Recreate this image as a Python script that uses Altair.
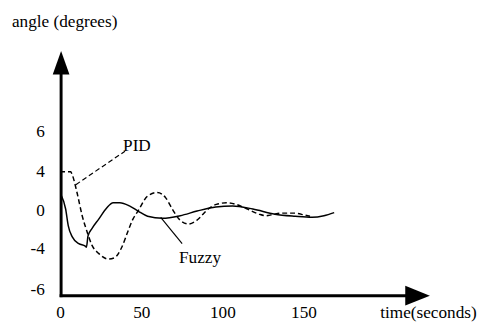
import altair as alt
import pandas as pd

# ---- data ----
fuzzy_t = [0.5, 3.4, 5.0, 7.5, 11.5, 15.5, 16.2, 17.2, 19.6, 23.7, 28.7, 32.7, 36.8, 42.7,
           48.0, 53.9, 63.1, 74.0, 84.4, 95.9, 106.3, 118.8, 132.4, 144.9, 155.3, 162.6, 168.9]
fuzzy_y = [1.8, 0.4, -1.2, -2.3, -2.95, -3.2, -3.3, -2.2, -1.5, -0.6, 0.5, 1.0, 1.0, 0.7,
           0.2, -0.3, -0.5, -0.25, 0.2, 0.6, 0.7, 0.4, -0.1, -0.3, -0.4, -0.25, 0.05]

pid_t = [0, 6.5, 7.5, 10.4, 13.6, 16.6, 19.6, 23.7, 29.7, 33.8, 37.7, 41.7, 44.8, 48.0, 53.9,
         59.9, 65.0, 69.1, 74.1, 79.2, 84.2, 91.3, 96.3, 102.5, 108.4, 114.7, 122.6, 126.7,
         130.7, 136.6, 144.9, 150.9, 154.0]
pid_y = [4, 4, 3.7, 2.0, -0.25, -1.8, -3.1, -3.9, -4.45, -4.3, -3.4, -1.8, -0.6, 0.2, 1.65,
         2.0, 1.5, 0.4, -0.7, -1.05, -0.7, 0.4, 0.85, 1.0, 0.85, 0.45, -0.1, -0.25, -0.15,
         0, 0, -0.2, -0.3]

x_ticks = [0, 50, 100, 150]
y_tick_pos = [7.9, 4.0, 0.2, -3.43, -7.43]
y_tick_text = ["6", "4", "0", "-4", "-6"]

x_title = "time(seconds)"
y_title = "angle (degrees)"
pid_label = "PID"
fuzzy_label = "Fuzzy"

# annotation anchors (data units)
pid_leader_t = [40.0, 9.7]
pid_leader_y = [6.0, 2.76]
fuzzy_leader_t = [62.0, 75.2]
fuzzy_leader_y = [-0.41, -2.95]

X_DOMAIN = [0, 230.3]
Y_DOMAIN = [-8.2, 16]
AXIS_T = 0.6        # where the vertical axis line sits
AXIS_Y = -8.0       # where the horizontal axis line sits
Y_ARROW_BASE, Y_ARROW_TIP = 13.43, 15.71
X_ARROW_BASE, X_ARROW_TIP = 212.7, 227.9

FONT = "Liberation Serif"
FS = 17.5

xs = alt.Scale(domain=X_DOMAIN, nice=False, zero=False)
ys = alt.Scale(domain=Y_DOMAIN, nice=False, zero=False)

ylabel_expr = " : ".join(
    f"datum.value == {p} ? '{t}'" for p, t in zip(y_tick_pos, y_tick_text)
) + " : ''"

x_enc = alt.X("t:Q", scale=xs, axis=alt.Axis(values=x_ticks, domain=False, ticks=False, tickSize=0,
                                             grid=False, title=None, labelFont=FONT, labelFontSize=FS,
                                             labelColor="black", labelPadding=6, labelFlush=False))
y_enc = alt.Y("y:Q", scale=ys, axis=alt.Axis(values=y_tick_pos, labelExpr=ylabel_expr, domain=False,
                                             ticks=False, tickSize=0, grid=False, title=None,
                                             labelFont=FONT, labelFontSize=FS, labelColor="black",
                                             labelPadding=16, labelFlush=False))

fuzzy_df = pd.DataFrame({"t": fuzzy_t, "y": fuzzy_y})
pid_df = pd.DataFrame({"t": pid_t, "y": pid_y})

fuzzy_line = alt.Chart(fuzzy_df).mark_line(color="black", strokeWidth=1.5, interpolate="monotone").encode(
    x=x_enc, y=y_enc)
pid_line = alt.Chart(pid_df).mark_line(color="black", strokeWidth=1.5, strokeDash=[5, 3],
                                       interpolate="monotone").encode(
    x=alt.X("t:Q", scale=xs), y=alt.Y("y:Q", scale=ys))

pid_leader = alt.Chart(pd.DataFrame({"t": pid_leader_t, "y": pid_leader_y})).mark_line(
    color="black", strokeWidth=1.2, strokeDash=[5, 3]).encode(
    x=alt.X("t:Q", scale=xs), y=alt.Y("y:Q", scale=ys))
fuzzy_leader = alt.Chart(pd.DataFrame({"t": fuzzy_leader_t, "y": fuzzy_leader_y})).mark_line(
    color="black", strokeWidth=1.2).encode(
    x=alt.X("t:Q", scale=xs), y=alt.Y("y:Q", scale=ys))

# axis lines
vaxis = alt.Chart(pd.DataFrame({"t": [AXIS_T, AXIS_T], "y": [AXIS_Y - 0.14, Y_ARROW_BASE + 0.3]})).mark_line(
    color="black", strokeWidth=3).encode(x=alt.X("t:Q", scale=xs), y=alt.Y("y:Q", scale=ys))
haxis = alt.Chart(pd.DataFrame({"t": [AXIS_T - 0.9, X_ARROW_BASE + 0.5], "y": [AXIS_Y, AXIS_Y]})).mark_line(
    color="black", strokeWidth=3).encode(x=alt.X("t:Q", scale=xs), y=alt.Y("y:Q", scale=ys))

yarrow = alt.Chart(pd.DataFrame({"t": [AXIS_T], "y": [(Y_ARROW_BASE + Y_ARROW_TIP) / 2]})).mark_point(
    shape="M0,-0.96L0.68,0.96L-0.68,0.96Z", filled=True, size=625, color="black", opacity=1, strokeWidth=0
).encode(x=alt.X("t:Q", scale=xs), y=alt.Y("y:Q", scale=ys))
xarrow = alt.Chart(pd.DataFrame({"t": [(X_ARROW_BASE + X_ARROW_TIP) / 2], "y": [AXIS_Y]})).mark_point(
    shape="M1,0L-1,-0.8L-1,0.8Z", filled=True, size=625, color="black", opacity=1, strokeWidth=0
).encode(x=alt.X("t:Q", scale=xs), y=alt.Y("y:Q", scale=ys))

texts = pd.DataFrame({
    "t": [38.8, 73.3, -29.7, 227.0],
    "y": [6.48, -4.38, 18.48, -9.71],
    "label": [pid_label, fuzzy_label, y_title, x_title],
    "align": ["left", "left", "left", "center"],
})
text_left = alt.Chart(texts[texts["align"] == "left"]).mark_text(
    font=FONT, fontSize=FS, color="black", align="left", baseline="middle").encode(
    x=alt.X("t:Q", scale=xs), y=alt.Y("y:Q", scale=ys), text="label:N")
text_center = alt.Chart(texts[texts["align"] == "center"]).mark_text(
    font=FONT, fontSize=FS, color="black", align="center", baseline="middle").encode(
    x=alt.X("t:Q", scale=xs), y=alt.Y("y:Q", scale=ys), text="label:N")

chart = alt.layer(
    fuzzy_line, pid_line, pid_leader, fuzzy_leader, vaxis, haxis, yarrow, xarrow, text_left, text_center
).properties(
    width=380, height=254,
    background="white",
    autosize=alt.AutoSizeParams(type="none"),
    padding={"left": 53, "top": 38, "right": 48, "bottom": 24},
).configure_view(strokeWidth=0, stroke=None).configure_axis(
    labelFont=FONT, labelFontSize=FS, labelColor="black"
).configure_text(font=FONT)

chart.save("out.html", embed_options={"renderer": "svg", "actions": False})
